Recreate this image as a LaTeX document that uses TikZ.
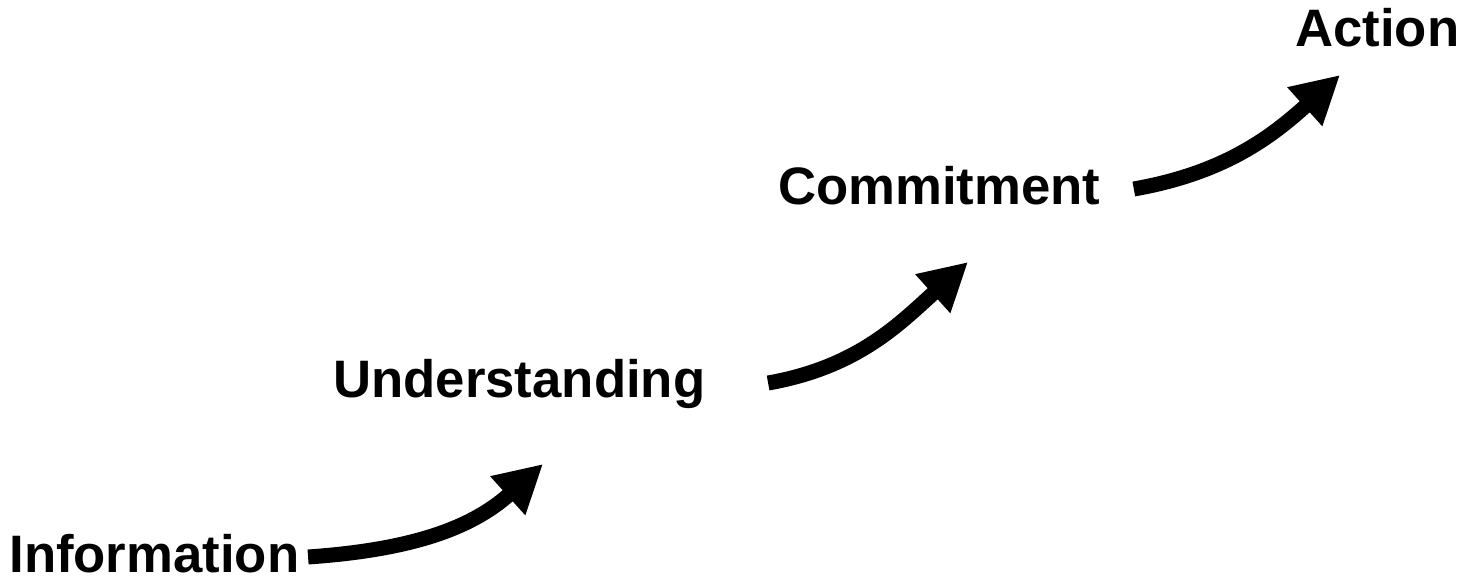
\documentclass[tikz,border=0pt]{standalone}
\usepackage{fontspec}
\setmainfont{Liberation Sans}
\usetikzlibrary{arrows.meta}
\begin{document}
\begin{tikzpicture}[x=0.02cm, y=-0.02cm,
	stage/.style={inner sep=0, anchor=base west, font=\bfseries\fontsize{30}{36}\selectfont},
	flow/.style={line width=0.3cm, -{Triangle[length=0.95cm, width=0.98cm]}}]
	\useasboundingbox (0, 0) rectangle (1462, 581);
	\node[stage] (info) at (9, 572) {Information};
	\node[stage] (under) at (333, 397) {Understanding};
	\node[stage] (commit) at (778, 204) {Commitment};
	\node[stage] (act) at (1295, 47) {Action};
	\coordinate (tip1) at (543, 464);
	\coordinate (tip2) at (968, 262);
	\coordinate (tip3) at (1340, 75);
	\draw[flow] ([xshift=0.17cm, yshift=0.3cm]info.base east) to[out=4, in=222] (tip1);
	\draw[flow] ([xshift=1.25cm, yshift=0.28cm]under.base east) to[out=10, in=222] (tip2);
	\draw[flow] ([xshift=0.66cm, yshift=0.3cm]commit.base east) to[out=10, in=222] (tip3);
\end{tikzpicture}
\end{document}
